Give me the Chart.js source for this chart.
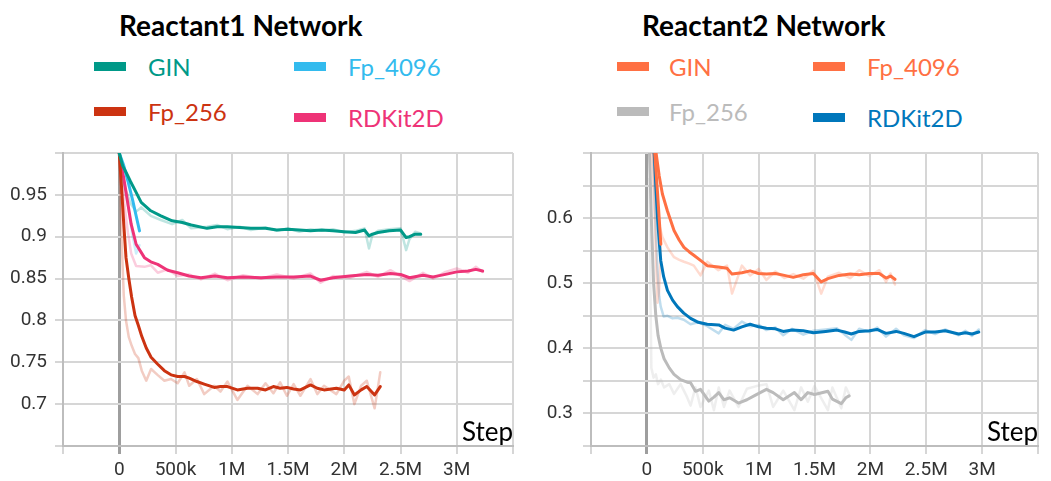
<!DOCTYPE html>
<html>
<head>
<meta charset="utf-8">
<script src="https://cdn.jsdelivr.net/npm/chart.js"></script>
<style>
  body { margin: 0; background: #fff; width: 1051px; height: 481px; position: relative; overflow: hidden; font-family: Lato, sans-serif; }
  .title { position: absolute; top: 9px; font-size: 28px; font-weight: bold; line-height: 1.2; color: #000; white-space: nowrap; }
  .swatch { position: absolute; width: 32px; height: 9px; }
  .label { position: absolute; font-size: 24px; line-height: 1.2; white-space: nowrap; }
  canvas { position: absolute; top: 140px; }
</style>
</head>
<body>
<div class="title" style="left: 119px;">Reactant1 Network</div>
<div class="title" style="left: 642px;">Reactant2 Network</div>
<div id="legend1"></div>
<div id="legend2"></div>
<canvas id="chart1" width="525" height="341" style="left: 0px;"></canvas>
<canvas id="chart2" width="526" height="341" style="left: 525px;"></canvas>

<script>
// steps are in thousands
const seriesNames = ['GIN', 'Fp_4096', 'Fp_256', 'RDKit2D'];

// Reactant1 network
const r1GinSteps = [0, 30, 60, 100, 150, 195, 280, 370, 470, 560, 640, 780, 870, 960, 1070, 1170, 1300, 1400, 1500, 1600, 1700, 1800, 1900, 2000, 2100, 2180, 2220, 2250, 2300, 2400, 2500, 2550, 2580, 2630, 2680];
const r1GinSmooth = [1.0, 0.985, 0.977, 0.966, 0.953, 0.941, 0.931, 0.925, 0.919, 0.917, 0.914, 0.910, 0.912, 0.912, 0.911, 0.910, 0.910, 0.908, 0.909, 0.908, 0.907, 0.908, 0.907, 0.906, 0.905, 0.908, 0.901, 0.903, 0.905, 0.907, 0.908, 0.899, 0.900, 0.903, 0.903];
const r1GinRaw = [1.0, 0.97, 0.955, 0.94, 0.93, 0.935, 0.925, 0.92, 0.915, 0.92, 0.91, 0.912, 0.914, 0.909, 0.912, 0.908, 0.911, 0.907, 0.91, 0.906, 0.909, 0.907, 0.909, 0.905, 0.907, 0.91, 0.886, 0.902, 0.907, 0.909, 0.91, 0.884, 0.897, 0.906, 0.904];

const r1Fp4096Steps = [0, 40, 80, 120, 150, 180];
const r1Fp4096Smooth = [1.0, 0.985, 0.965, 0.943, 0.925, 0.907];
const r1Fp4096Raw = [1.0, 0.965, 0.935, 0.9, 0.88, 0.89];

const r1Fp256Steps = [0, 20, 40, 60, 85, 110, 140, 170, 200, 240, 283, 340, 401, 460, 519, 580, 622, 690, 755, 844, 900, 962, 1050, 1140, 1230, 1300, 1370, 1430, 1490, 1550, 1610, 1700, 1760, 1820, 1930, 2000, 2040, 2090, 2150, 2200, 2270, 2320];
const r1Fp256Smooth = [1.0, 0.96, 0.915, 0.875, 0.85, 0.828, 0.806, 0.794, 0.781, 0.767, 0.756, 0.748, 0.740, 0.735, 0.733, 0.733, 0.731, 0.727, 0.724, 0.720, 0.721, 0.721, 0.717, 0.719, 0.719, 0.717, 0.721, 0.719, 0.720, 0.718, 0.717, 0.723, 0.719, 0.717, 0.719, 0.717, 0.723, 0.711, 0.717, 0.721, 0.711, 0.721];
const r1Fp256Raw = [1.0, 0.9, 0.83, 0.80, 0.78, 0.77, 0.76, 0.755, 0.74, 0.728, 0.742, 0.735, 0.728, 0.73, 0.725, 0.738, 0.722, 0.73, 0.712, 0.722, 0.715, 0.727, 0.705, 0.722, 0.712, 0.725, 0.713, 0.726, 0.71, 0.724, 0.71, 0.73, 0.712, 0.722, 0.712, 0.728, 0.733, 0.70, 0.722, 0.728, 0.695, 0.738];

const r1RdkitSteps = [0, 40, 77, 106, 150, 224, 280, 342, 430, 519, 620, 726, 850, 962, 1100, 1260, 1400, 1550, 1700, 1790, 1900, 2050, 2200, 2300, 2410, 2500, 2580, 2700, 2790, 2900, 3000, 3100, 3170, 3230];
const r1RdkitSmooth = [1.0, 0.97, 0.939, 0.915, 0.891, 0.875, 0.870, 0.867, 0.860, 0.857, 0.853, 0.851, 0.853, 0.851, 0.852, 0.851, 0.852, 0.852, 0.853, 0.848, 0.851, 0.853, 0.855, 0.854, 0.856, 0.855, 0.851, 0.854, 0.852, 0.855, 0.858, 0.859, 0.861, 0.859];
const r1RdkitRaw = [1.0, 0.945, 0.905, 0.88, 0.865, 0.864, 0.866, 0.857, 0.861, 0.853, 0.855, 0.849, 0.856, 0.848, 0.854, 0.85, 0.855, 0.85, 0.856, 0.845, 0.853, 0.851, 0.858, 0.852, 0.86, 0.853, 0.847, 0.857, 0.85, 0.858, 0.862, 0.857, 0.864, 0.858];

// Reactant2 network
const r2GinSteps = [40, 70, 95, 110, 125];
const r2GinSmooth = [0.78, 0.70, 0.64, 0.60, 0.56];
const r2GinRaw = [0.72, 0.6, 0.47, 0.49, 0.56];

const r2Fp4096Steps = [60, 80, 110, 139, 184, 243, 290, 332, 380, 420, 480, 540, 640, 717, 762, 850, 924, 1000, 1070, 1150, 1230, 1310, 1400, 1490, 1560, 1620, 1720, 1820, 1900, 1990, 2080, 2140, 2180, 2220];
const r2Fp4096Smooth = [0.74, 0.703, 0.665, 0.637, 0.611, 0.581, 0.566, 0.555, 0.548, 0.543, 0.535, 0.527, 0.525, 0.523, 0.514, 0.516, 0.519, 0.515, 0.514, 0.515, 0.512, 0.509, 0.513, 0.515, 0.502, 0.507, 0.512, 0.514, 0.513, 0.515, 0.515, 0.508, 0.511, 0.506];
const r2Fp4096Raw = [0.70, 0.64, 0.59, 0.571, 0.555, 0.540, 0.536, 0.533, 0.53, 0.527, 0.512, 0.533, 0.52, 0.527, 0.484, 0.527, 0.512, 0.522, 0.505, 0.518, 0.508, 0.514, 0.507, 0.519, 0.484, 0.51, 0.516, 0.508, 0.52, 0.511, 0.52, 0.502, 0.515, 0.498];

const r2Fp256Steps = [20, 40, 60, 80, 100, 125, 154, 200, 243, 302, 360, 391, 435, 480, 554, 600, 643, 690, 740, 820, 895, 980, 1070, 1130, 1220, 1320, 1380, 1440, 1500, 1620, 1660, 1740, 1780, 1810];
const r2Fp256Smooth = [0.72, 0.6, 0.5, 0.45, 0.42, 0.40, 0.384, 0.37, 0.36, 0.352, 0.348, 0.347, 0.334, 0.337, 0.319, 0.325, 0.332, 0.321, 0.324, 0.316, 0.321, 0.329, 0.337, 0.332, 0.321, 0.332, 0.321, 0.332, 0.329, 0.334, 0.322, 0.315, 0.324, 0.327];
const r2Fp256Raw = [0.66, 0.37, 0.355, 0.36, 0.345, 0.352, 0.34, 0.345, 0.33, 0.345, 0.325, 0.312, 0.34, 0.31, 0.335, 0.305, 0.34, 0.31, 0.335, 0.31, 0.338, 0.342, 0.345, 0.31, 0.335, 0.305, 0.34, 0.318, 0.342, 0.305, 0.34, 0.308, 0.34, 0.33];

const r2RdkitSteps = [50, 65, 80, 95, 110, 124, 150, 184, 230, 273, 330, 391, 460, 540, 643, 700, 776, 850, 924, 1000, 1070, 1150, 1220, 1300, 1400, 1490, 1600, 1700, 1770, 1830, 1900, 1990, 2060, 2140, 2230, 2300, 2390, 2490, 2580, 2670, 2790, 2850, 2910, 2970];
const r2RdkitSmooth = [0.76, 0.703, 0.65, 0.601, 0.565, 0.535, 0.51, 0.489, 0.474, 0.464, 0.454, 0.446, 0.44, 0.437, 0.436, 0.431, 0.428, 0.433, 0.437, 0.433, 0.431, 0.43, 0.426, 0.428, 0.427, 0.424, 0.426, 0.428, 0.425, 0.422, 0.426, 0.427, 0.429, 0.423, 0.426, 0.423, 0.418, 0.425, 0.425, 0.427, 0.422, 0.424, 0.422, 0.425];
const r2RdkitRaw = [0.74, 0.66, 0.58, 0.52, 0.48, 0.464, 0.449, 0.45, 0.446, 0.447, 0.444, 0.437, 0.44, 0.434, 0.423, 0.436, 0.43, 0.441, 0.434, 0.436, 0.428, 0.432, 0.42, 0.43, 0.421, 0.427, 0.429, 0.431, 0.421, 0.413, 0.43, 0.425, 0.432, 0.418, 0.43, 0.42, 0.416, 0.428, 0.422, 0.429, 0.42, 0.427, 0.419, 0.429];

// axis ticks
const xTickValues = [0, 500, 1000, 1500, 2000, 2500, 3000];
const xTickLabels = ['0', '500k', '1M', '1.5M', '2M', '2.5M', '3M'];
const r1YLabels = [0.7, 0.75, 0.8, 0.85, 0.9, 0.95];
const r2YLabels = [0.3, 0.4, 0.5, 0.6];

const r1Colors = ['#009988', '#33bbee', '#cc3311', '#ee3377'];
const r2Colors = ['#ff7043', '#ff7043', '#bbbbbb', '#0077bb'];

// legend slots: swatch x, swatch center y, text x, text cap center y
const r1LegendSlots = [[94, 66, 148, 68.5], [294, 66, 348, 68.5], [94, 111, 148, 113], [294, 117, 348, 119.5]];
const r2LegendSlots = [[617, 66, 669, 68.5], [813, 66, 867, 68.5], [617, 111, 669, 113], [813, 117, 867, 119.5]];

function toPoints(steps, values) {
    return steps.map((s, i) => ({ x: s, y: values[i] }));
}

function fade(hex, alpha) {
    const n = parseInt(hex.slice(1), 16);
    return 'rgba(' + (n >> 16) + ',' + ((n >> 8) & 255) + ',' + (n & 255) + ',' + alpha + ')';
}

function buildDatasets(colors, steps, smooth, raw) {
    let sets = [];
    for (let i = 0; i < seriesNames.length; i++) {
        sets.push({
            label: seriesNames[i],
            data: toPoints(steps[i], smooth[i]),
            borderColor: colors[i],
            borderWidth: 3,
            order: 1
        });
        sets.push({
            label: seriesNames[i] + ' (raw)',
            data: toPoints(steps[i], raw[i]),
            borderColor: fade(colors[i], 0.25),
            borderWidth: 2.5,
            order: 2
        });
    }
    return sets;
}

function buildLegend(id, colors, slots) {
    let html = '';
    for (let i = 0; i < seriesNames.length; i++) {
        const s = slots[i];
        html += '<div class="swatch" style="left:' + s[0] + 'px;top:' + (s[1] - 4.5) + 'px;background:' + colors[i] + '"></div>';
        html += '<div class="label" style="left:' + s[2] + 'px;top:' + (s[3] - 15.1) + 'px;color:' + colors[i] + '">' + seriesNames[i] + '</div>';
    }
    document.getElementById(id).innerHTML = html;
}

const tickFont = { family: 'Roboto', size: 19 };

function makeChart(id, datasets, yMin, yMax, yLabels, axisWidth, yPad, rightPad) {
    const gridOpts = {
        color: ctx => (ctx.tick && ctx.tick.value === 0 && ctx.scale.axis === 'x') ? '#9e9e9e' : '#d6d6d6',
        lineWidth: ctx => (ctx.tick && ctx.tick.value === 0 && ctx.scale.axis === 'x') ? 3 : 2,
        tickLength: 8
    };
    return new Chart(document.getElementById(id), {
        type: 'line',
        data: { datasets: datasets },
        options: {
            responsive: false,
            animation: false,
            events: [],
            layout: { padding: { top: 13, right: rightPad, left: 0, bottom: 0 } },
            elements: {
                point: { radius: 0 },
                line: { tension: 0, borderJoinStyle: 'round', borderCapStyle: 'round' }
            },
            plugins: { legend: { display: false }, tooltip: { enabled: false } },
            scales: {
                x: {
                    type: 'linear',
                    min: -500,
                    max: 3500,
                    afterFit: s => { s.height = 35; s.paddingLeft = 0; s.paddingRight = 0; },
                    grid: gridOpts,
                    border: { color: '#bdbdbd', width: 2 },
                    ticks: {
                        stepSize: 500,
                        autoSkip: false,
                        maxRotation: 0,
                        padding: 5,
                        color: '#333',
                        font: tickFont,
                        callback: v => {
                            const i = xTickValues.indexOf(v);
                            return i < 0 ? '' : xTickLabels[i];
                        }
                    },
                    title: {
                        display: true,
                        text: 'Step',
                        align: 'end',
                        color: '#000',
                        font: { family: 'Lato', size: 26 },
                        padding: { top: 0, bottom: 33 }
                    }
                },
                y: {
                    type: 'linear',
                    min: yMin,
                    max: yMax,
                    afterFit: s => { s.width = axisWidth; s.paddingTop = 0; s.paddingBottom = 0; },
                    grid: gridOpts,
                    border: { color: '#bdbdbd', width: 2 },
                    ticks: {
                        stepSize: 0.05,
                        autoSkip: false,
                        padding: yPad,
                        color: '#333',
                        font: tickFont,
                        callback: v => {
                            const r = Math.round(v * 100) / 100;
                            return yLabels.includes(r) ? String(r) : '';
                        }
                    }
                }
            }
        }
    });
}

buildLegend('legend1', r1Colors, r1LegendSlots);
buildLegend('legend2', r2Colors, r2LegendSlots);

makeChart('chart1',
    buildDatasets(r1Colors,
        [r1GinSteps, r1Fp4096Steps, r1Fp256Steps, r1RdkitSteps],
        [r1GinSmooth, r1Fp4096Smooth, r1Fp256Smooth, r1RdkitSmooth],
        [r1GinRaw, r1Fp4096Raw, r1Fp256Raw, r1RdkitRaw]),
    0.65, 1.0, r1YLabels, 63, 8, 12);

makeChart('chart2',
    buildDatasets(r2Colors,
        [r2GinSteps, r2Fp4096Steps, r2Fp256Steps, r2RdkitSteps],
        [r2GinSmooth, r2Fp4096Smooth, r2Fp256Smooth, r2RdkitSmooth],
        [r2GinRaw, r2Fp4096Raw, r2Fp256Raw, r2RdkitRaw]),
    0.25, 0.7, r2YLabels, 66, 10, 13);
</script>
</body>
</html>
